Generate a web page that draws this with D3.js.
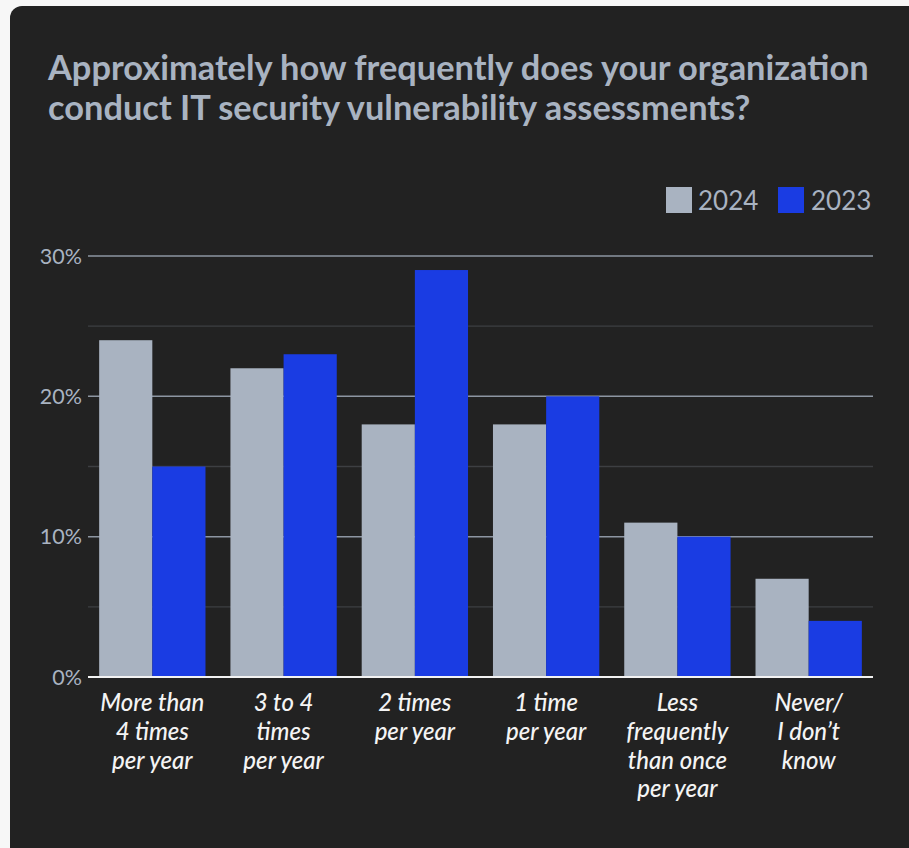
<!DOCTYPE html>
<html>
<head>
<meta charset="utf-8">
<script src="https://cdn.jsdelivr.net/npm/d3@7"></script>
<style>
  html, body { margin: 0; padding: 0; background: #f7f7f7; }
  svg { display: block; }
</style>
</head>
<body>
<svg id="chart" width="909" height="848"></svg>
<script>
// Survey answers (share of respondents, %)
const categories = [
  ["More than", "4 times", "per year"],
  ["3 to 4", "times", "per year"],
  ["2 times", "per year"],
  ["1 time", "per year"],
  ["Less", "frequently", "than once", "per year"],
  ["Never/", "I don\u2019t", "know"]
];
const seriesNames = ["2024", "2023"];
const values2024 = [24, 22, 18, 18, 11, 7];
const values2023 = [15, 23, 29, 20, 10, 4];
const majorTicks = [0, 10, 20, 30];
const minorTicks = [5, 15, 25];

const colors = { "2024": "#a9b3c1", "2023": "#1a3ce3" };
const textColor = "#a9b3c1";

const svg = d3.select("#chart");

// card
svg.append("rect")
  .attr("x", 10).attr("y", 6)
  .attr("width", 912).attr("height", 854)
  .attr("rx", 12)
  .attr("fill", "#222222");

// title
const title = svg.append("text")
  .attr("fill", textColor)
  .style("font-family", "Lato, sans-serif")
  .style("font-weight", "700")
  .style("font-size", "34.4px");
title.append("tspan").attr("x", 48).attr("y", 80)
  .text("Approximately how frequently does your organization");
title.append("tspan").attr("x", 48).attr("y", 120)
  .text("conduct IT security vulnerability assessments?");

// plot area
const plotLeft = 88, plotRight = 873, plotTop = 256, plotBottom = 677;
const x0 = d3.scaleBand()
  .domain(d3.range(categories.length))
  .range([plotLeft, plotRight])
  .paddingInner(0.19)
  .paddingOuter(0.085);
const x1 = d3.scaleBand()
  .domain(seriesNames)
  .range([0, x0.bandwidth()]);
const y = d3.scaleLinear().domain([0, 30]).range([plotBottom, plotTop]);

// minor grid
svg.append("g").selectAll("line").data(minorTicks).join("line")
  .attr("x1", plotLeft).attr("x2", plotRight)
  .attr("y1", d => y(d)).attr("y2", d => y(d))
  .attr("stroke", "#3d3f42").attr("stroke-width", 1.3);

// major grid
svg.append("g").selectAll("line").data(majorTicks.filter(d => d > 0)).join("line")
  .attr("x1", plotLeft).attr("x2", plotRight)
  .attr("y1", d => y(d)).attr("y2", d => y(d))
  .attr("stroke", "#8d96a2").attr("stroke-width", 1.5);

// y tick labels
svg.append("g").selectAll("text").data(majorTicks).join("text")
  .attr("x", 82).attr("y", d => y(d))
  .attr("dy", "0.35em")
  .attr("text-anchor", "end")
  .attr("fill", textColor)
  .style("font-family", "Lato, sans-serif")
  .style("font-size", "21.5px")
  .text(d => d + "%");

// bars
const rows = categories.map((c, i) => ({ i, "2024": values2024[i], "2023": values2023[i] }));
const groups = svg.append("g").selectAll("g").data(rows).join("g")
  .attr("transform", d => `translate(${x0(d.i)},0)`);
groups.selectAll("rect")
  .data(d => seriesNames.map(k => ({ key: k, value: d[k] })))
  .join("rect")
  .attr("x", d => x1(d.key))
  .attr("y", d => y(d.value))
  .attr("width", x1.bandwidth())
  .attr("height", d => y(0) - y(d.value))
  .attr("fill", d => colors[d.key]);

// baseline
svg.append("line")
  .attr("x1", plotLeft).attr("x2", plotRight)
  .attr("y1", y(0)).attr("y2", y(0))
  .attr("stroke", "#f2f2f2").attr("stroke-width", 2);

// category labels
const labels = svg.append("g").selectAll("text").data(categories).join("text")
  .attr("text-anchor", "middle")
  .attr("fill", "#f4f4f4")
  .style("font-family", "Lato, sans-serif")
  .style("font-style", "italic")
  .style("font-weight", "500")
  .style("font-size", "24px");
labels.each(function (lines, i) {
  const cx = x0(i) + x0.bandwidth() / 2;
  d3.select(this).selectAll("tspan").data(lines).join("tspan")
    .attr("x", cx)
    .attr("y", (d, j) => 711 + j * 28.8)
    .text(d => d);
});

// legend
const legendItems = [
  { key: "2024", sx: 666, tx: 698 },
  { key: "2023", sx: 778, tx: 811 }
];
const legend = svg.append("g").selectAll("g").data(legendItems).join("g");
legend.append("rect")
  .attr("x", d => d.sx).attr("y", 187)
  .attr("width", 26).attr("height", 26)
  .attr("fill", d => colors[d.key]);
legend.append("text")
  .attr("x", d => d.tx).attr("y", 210)
  .attr("fill", textColor)
  .style("font-family", "Lato, sans-serif")
  .style("font-size", "26px")
  .text(d => d.key);
</script>
</body>
</html>
